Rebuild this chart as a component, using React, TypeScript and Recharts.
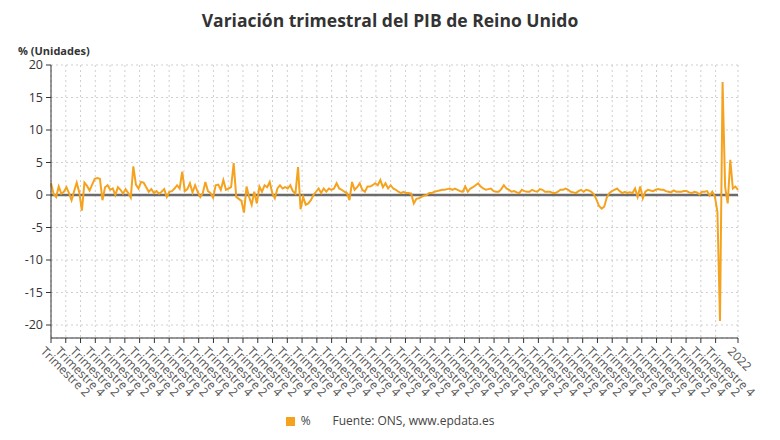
import React from "react";
import { CartesianGrid, Line, LineChart, ReferenceLine, XAxis, YAxis } from "recharts";

const ORANGE = "#F5A31F";
const TEXT = "#333";
const FONT = "'Open Sans', sans-serif";

// quarterly GDP change (%), UK, from 1955 Q2 to 2022 Q1
const GDP_1950S = [1.8, 0.2, -0.3, 1.3, 0.2, 0.5, 1.2, 0.3, -0.8, 0.6, 1.9, 0.4, -2.4, 1.9, 1.4, 0.7, 1.6, 2.5, 2.6];
const GDP_1960S = [
  2.5, -0.8, 1.2, 1.5, 0.8, 1.0, 0.0, 1.2, 0.8, 0.2, 0.9, 0.3, -0.4, 4.4, 1.6, 1.0, 2.0, 1.9, 1.2, 0.5,
  0.9, 0.3, 0.6, 0.2, 0.5, 0.9, -0.3, 0.5, 0.6, 1.0, 1.5, 1.0, 3.6, 0.6, 0.9, 1.8, 0.4, 1.5, 0.5, -0.3,
];
const GDP_1970S = [
  0.3, 2.0, 0.6, 0.3, -0.4, 1.5, 1.6, 0.8, 2.3, 0.8, 1.0, 1.2, 4.9, -0.3, -0.6, -0.9, -2.7, 1.3, -0.3, -1.5,
  0.5, -1.3, 1.3, 0.5, 1.5, 1.2, 2.0, 0.3, -0.5, 1.0, 1.5, 1.0, 1.2, 1.0, 1.5, 0.6, 0.2, 4.3, -2.2, -0.3,
];
const GDP_1980S = [
  -1.5, -1.3, -0.8, 0.0, 0.5, 1.0, 0.3, 1.0, 0.5, 1.0, 0.8, 1.0, 1.8, 1.0, 0.8, 0.5, 0.3, -0.8, 2.0, 0.8,
  1.2, 1.8, 0.8, 0.5, 1.3, 1.3, 1.5, 1.8, 1.5, 2.3, 1.2, 1.8, 1.0, 1.5, 1.0, 0.8, 0.5, 0.3, 0.5, 0.3,
];
const GDP_1990S = [
  0.3, 0.2, -1.3, -0.6, -0.5, -0.3, -0.1, 0.0, 0.3, 0.3, 0.5, 0.6, 0.7, 0.8, 0.8, 0.9, 1.0, 0.8, 1.0, 0.8,
  0.6, 0.5, 1.3, 0.5, 1.0, 1.2, 1.5, 1.8, 1.3, 1.0, 0.8, 0.9, 1.0, 0.6, 0.5, 0.5, 0.9, 1.5, 1.0, 0.8,
];
const GDP_2000S = [
  0.5, 0.6, 0.4, 0.3, 0.8, 0.6, 0.5, 0.5, 0.8, 0.6, 0.5, 0.9, 0.8, 0.5, 0.5, 0.5, 0.3, 0.3, 0.5, 0.8,
  0.8, 1.0, 0.8, 0.5, 0.4, 0.3, 0.6, 0.8, 0.5, 0.8, 0.7, 0.5, 0.1, -0.7, -1.7, -2.1, -1.8, -0.4, 0.3, 0.6,
];
const GDP_2010S = [
  0.8, 1.0, 0.6, 0.3, 0.5, 0.3, 0.4, 0.3, 1.0, -0.3, 1.3, -0.5, 0.5, 0.8, 0.7, 0.6, 0.8, 0.9, 0.8, 0.8,
  0.6, 0.5, 0.4, 0.7, 0.5, 0.5, 0.5, 0.6, 0.6, 0.4, 0.3, 0.5, 0.4, 0.1, 0.5, 0.5, 0.6, -0.1, 0.5, -0.2,
];
const GDP_2020S = [-2.6, -19.4, 17.4, 1.2, -1.3, 5.4, 1.0, 1.3, 0.8];

const GDP = [...GDP_1950S, ...GDP_1960S, ...GDP_1970S, ...GDP_1980S, ...GDP_1990S, ...GDP_2000S, ...GDP_2010S, ...GDP_2020S];

const Y_TICKS = [-20, -15, -10, -5, 0, 5, 10, 15, 20];
const X_TICK_LABELS = [...Array(46)].map((_, k) => (k % 2 === 0 ? "Trimestre 2" : "Trimestre 4")).concat("2022");
const X_TICK_STEP = 5.74; // quarters between labels
const X_TICKS = X_TICK_LABELS.map((_, k) => (k < 46 ? k * X_TICK_STEP : GDP.length - 1));

const data = GDP.map((v, i) => ({ i, v }));

function QuarterTick(props: any) {
  const { x, y, index } = props;
  const tx = x - 5;
  const ty = y + 1;
  return (
    <text x={tx} y={ty} dy="0.72em" transform={`rotate(45, ${tx}, ${ty})`} fill="#555" fontSize={12} fontFamily={FONT} textAnchor="start">
      {X_TICK_LABELS[index]}
    </text>
  );
}

export default function App() {
  return (
    <div style={{ position: "absolute", left: 0, top: 0, width: 780, height: 440, background: "#fff", fontFamily: FONT, color: TEXT }}>
      <div style={{ position: "absolute", top: 8, left: 0, width: 780, textAlign: "center", fontSize: 17.5, fontWeight: 700, lineHeight: "24px" }}>
        Variación trimestral del PIB de Reino Unido
      </div>
      <div style={{ position: "absolute", top: 43, left: 18, fontSize: 11, fontWeight: 700, lineHeight: "16px" }}>% (Unidades)</div>
      <LineChart width={780} height={440} data={data} margin={{ top: 65, right: 42, left: 0, bottom: 0 }}>
        <CartesianGrid stroke="#cfcfcf" strokeDasharray="2 3" />
        <XAxis
          type="number"
          dataKey="i"
          domain={[0, GDP.length - 1]}
          ticks={X_TICKS}
          interval={0}
          height={102}
          tick={<QuarterTick />}
          tickSize={5}
          axisLine={{ stroke: TEXT }}
          tickLine={{ stroke: TEXT }}
        />
        <YAxis
          domain={[-22, 20]}
          ticks={Y_TICKS}
          width={51}
          tickSize={5}
          tickMargin={3}
          tick={{ fill: TEXT, fontSize: 12.5, fontFamily: FONT }}
          axisLine={{ stroke: TEXT }}
          tickLine={{ stroke: TEXT }}
        />
        <ReferenceLine y={0} stroke="#6b6b6b" strokeWidth={2.5} />
        <Line type="linear" dataKey="v" stroke={ORANGE} strokeWidth={2} dot={false} isAnimationActive={false} />
      </LineChart>
      <div style={{ position: "absolute", top: 413, left: 0, width: 780, display: "flex", justifyContent: "center", alignItems: "center", fontSize: 12, color: "#444", lineHeight: "16px" }}>
        <span style={{ display: "inline-block", width: 9, height: 9, background: ORANGE, marginRight: 6 }} />
        <span>%</span>
        <span style={{ marginLeft: 22 }}>Fuente: ONS, www.epdata.es</span>
      </div>
    </div>
  );
}
